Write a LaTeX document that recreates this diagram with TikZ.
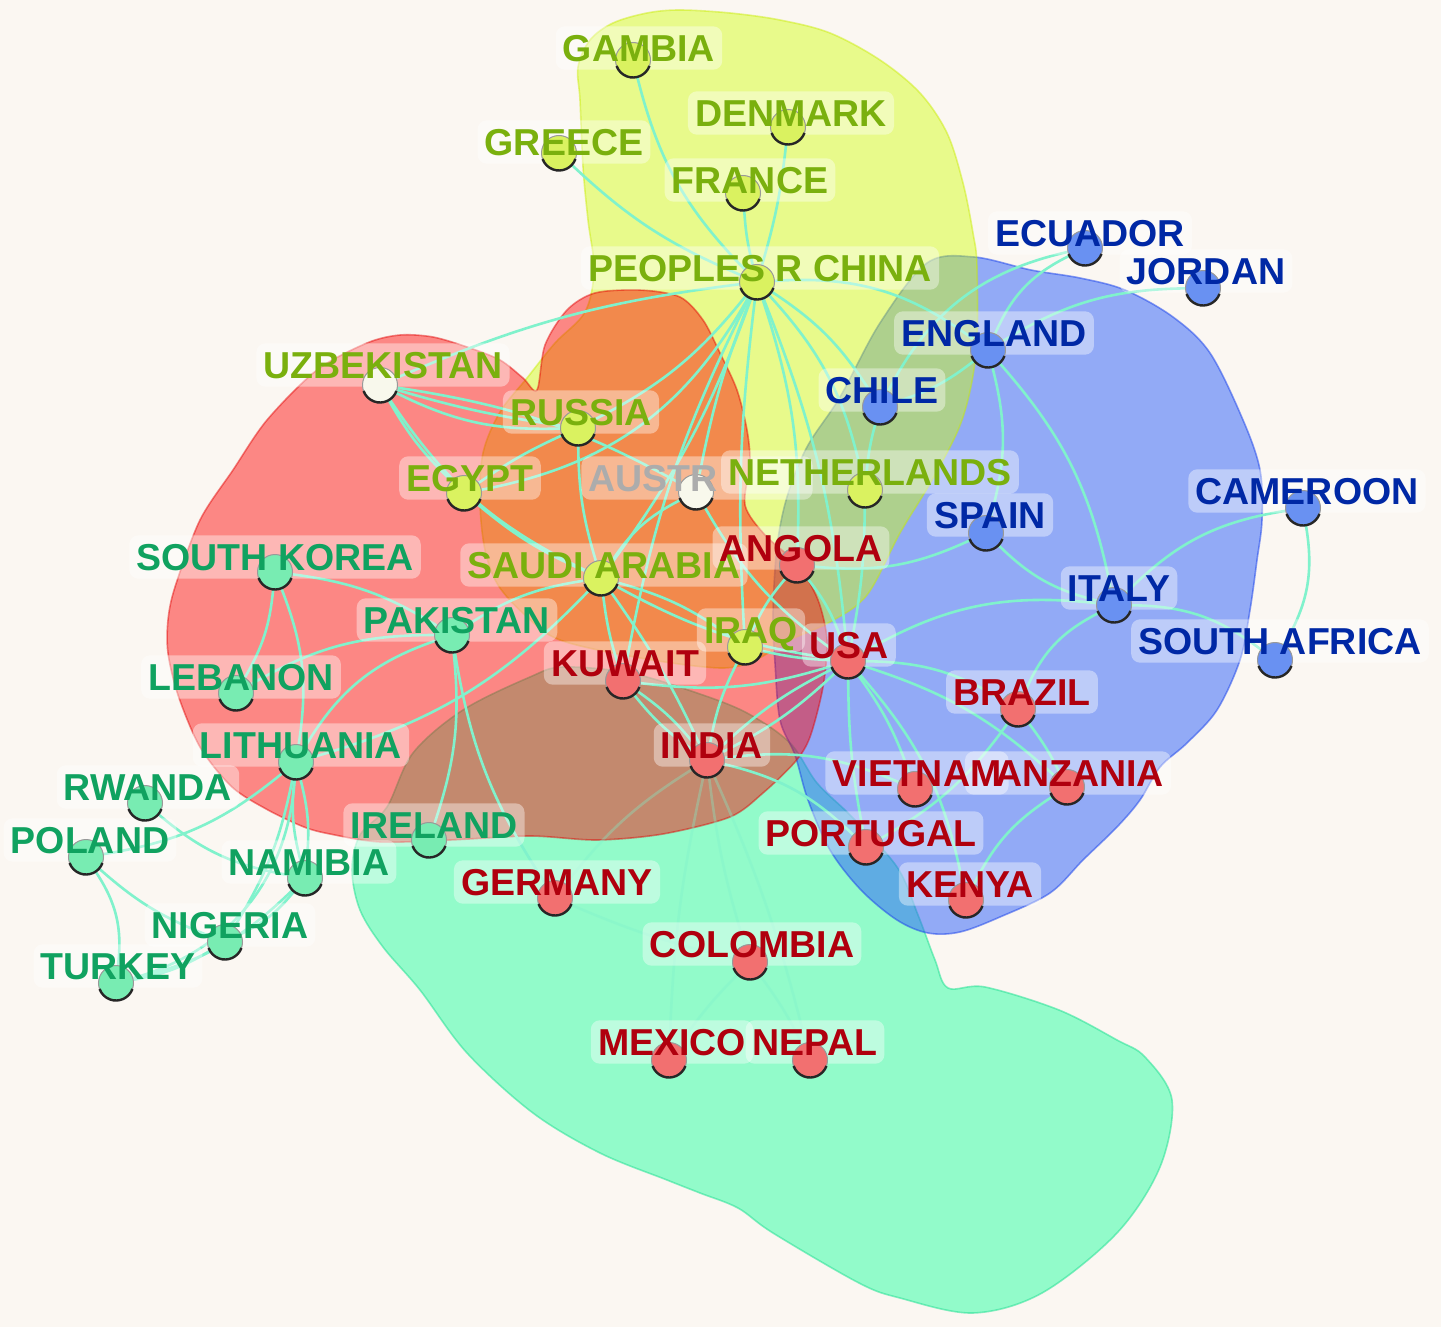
\documentclass[tikz,border=0pt]{standalone}
\usepackage{fontspec}
\newfontfamily\labfont{Liberation Sans}
\definecolor{bgc}{RGB}{251,247,242}
\definecolor{txY}{RGB}{122,176,14}
\definecolor{txG}{RGB}{16,162,96}
\definecolor{txR}{RGB}{176,0,14}
\definecolor{txB}{RGB}{0,40,165}
\definecolor{txA}{RGB}{172,172,172}
\definecolor{ndY}{RGB}{218,242,96}
\definecolor{ndW}{RGB}{248,248,236}
\definecolor{ndG}{RGB}{120,236,178}
\definecolor{ndR}{RGB}{242,112,112}
\definecolor{ndB}{RGB}{105,145,242}
\definecolor{edg}{RGB}{128,242,204}
\definecolor{blG}{RGB}{60,255,170}
\definecolor{blGd}{RGB}{40,225,150}
\definecolor{blB}{RGB}{50,100,250}
\definecolor{blBd}{RGB}{30,70,235}
\definecolor{blY}{RGB}{209,255,15}
\definecolor{blYd}{RGB}{200,235,0}
\definecolor{blR}{RGB}{255,0,0}
\definecolor{blRd}{RGB}{225,0,0}
\pgfdeclarelayer{blobs}
\pgfdeclarelayer{edges}
\pgfdeclarelayer{boxes}
\pgfdeclarelayer{dots}
\pgfsetlayers{blobs,edges,boxes,dots,main}
\begin{document}
\begin{tikzpicture}[x=1pt,y=-1pt,
  edge/.style={draw=edg, line width=2.6pt},
  faint/.style={draw=edg, line width=2.6pt, draw opacity=0.35},
  vl/.style={bend left=#1},
  vr/.style={bend right=#1},
  lab/.style={font=\labfont\bfseries\fontsize{37.5}{40}\selectfont, text=#1, inner xsep=7pt, inner ysep=8pt, text height=27pt, text depth=0pt},
  dot/.style={circle, minimum size=35pt, inner sep=0pt, fill=#1, draw=black!40, line width=1pt},
  blob/.style={opacity=0.5, line width=1.6pt}
]
\useasboundingbox (0,0) rectangle (1441,1327);
\begin{pgfonlayer}{blobs}
\fill[bgc] (0,0) rectangle (1441,1327);
% green cluster
\path[blob, opacity=0.55, fill=blG, draw=blGd] plot[smooth cycle, tension=0.55] coordinates {
 (387,807) (413,753) (463,710) (530,677) (563,667) (630,673) (697,693) (747,713) (790,743) (817,783) (852,817) (897,867) (918,915) (935,960) (948,988) (985,987) (1059,1010) (1117,1040) (1145,1057) (1172,1100) (1160,1167) (1117,1233) (1042,1293) (973,1313) (900,1298) (859,1283) (773,1233) (738,1208) (700,1193) (667,1180) (600,1153) (533,1113) (467,1053) (420,990) (383,947) (360,910) (352,870) (360,835)};
% blue cluster
\path[blob, opacity=0.52, fill=blB, draw=blBd] plot[smooth cycle, tension=0.55] coordinates {
 (927,263) (974,257) (1031,270) (1080,278) (1125,290) (1173,317) (1210,353) (1243,420) (1260,470) (1262,520) (1257,560) (1250,610) (1240,660) (1217,710) (1187,743) (1160,767) (1140,800) (1117,827) (1083,860) (1050,893) (1000,917) (960,932) (928,933) (897,920) (861,890) (830,850) (808,800) (795,755) (780,720) (775,663) (773,613) (777,547) (787,497) (807,447) (840,397) (880,323)};
% yellow cluster
\path[blob, opacity=0.45, fill=blY, draw=blYd] plot[smooth cycle, tension=0.55] coordinates {
 (580,100) (578,67) (590,40) (613,23) (647,13) (680,10) (730,13) (780,20) (830,33) (880,60) (920,93) (947,133) (963,183) (973,233) (977,267) (976,353) (962,420) (932,480) (900,533) (867,595) (830,622) (790,640) (755,660) (720,668) (640,658) (560,640) (525,615) (498,585) (485,550) (480,503) (483,453) (500,412) (527,378) (555,343) (585,312) (594,270) (588,220) (583,167)};
% red cluster
\path[blob, opacity=0.45, fill=blR, draw=blRd] plot[smooth cycle, tension=0.5] coordinates {
 (175,587) (200,520) (233,470) (267,420) (317,370) (367,343) (400,335) (433,337) (467,347) (500,360) (523,378) (537,390) (545,345) (567,310) (595,293) (640,290) (680,297) (703,320) (720,353) (737,390) (747,430) (750,463) (745,505) (765,535) (798,565) (818,600) (827,640) (823,687) (810,737) (795,762) (763,793) (730,817) (663,834) (597,840) (530,836) (450,840) (380,842) (330,834) (304,827) (268,810) (232,787) (200,747) (178,695) (168,653) (168,620)};
\end{pgfonlayer}

% ---------- node circles ----------
\begin{pgfonlayer}{dots}
\node[dot=ndY] (gam) at (633,60) {};
\node[dot=ndY] (den) at (788,127) {};
\node[dot=ndY] (gre) at (559,153) {};
\node[dot=ndY] (fra) at (743,193) {};
\node[dot=ndY] (chn) at (757,282) {};
\node[dot=ndW] (uzb) at (380,385) {};
\node[dot=ndY] (rus) at (578,428) {};
\node[dot=ndY] (egy) at (464,493) {};
\node[dot=ndW] (aus) at (696,492) {};
\node[dot=ndY] (net) at (865,490) {};
\node[dot=ndY] (sau) at (601,578) {};
\node[dot=ndY] (irq) at (745,647) {};
\node[dot=ndG] (sko) at (275,572) {};
\node[dot=ndG] (pak) at (452,635) {};
\node[dot=ndG] (leb) at (236,693) {};
\node[dot=ndG] (lit) at (296,762) {};
\node[dot=ndG] (rwa) at (145,803) {};
\node[dot=ndG] (pol) at (86,857) {};
\node[dot=ndG] (ire) at (429,840) {};
\node[dot=ndG] (nam) at (305,878) {};
\node[dot=ndG] (nig) at (225,942) {};
\node[dot=ndG] (tur) at (116,983) {};
\node[dot=ndR] (ang) at (797,565) {};
\node[dot=ndR] (kuw) at (623,681) {};
\node[dot=ndR] (usa) at (848,661) {};
\node[dot=ndR] (bra) at (1018,709) {};
\node[dot=ndR] (ind) at (707,760) {};
\node[dot=ndR] (vie) at (915,789) {};
\node[dot=ndR] (tan) at (1067,787) {};
\node[dot=ndR] (por) at (866,847) {};
\node[dot=ndR] (ger) at (555,898) {};
\node[dot=ndR] (ken) at (966,900) {};
\node[dot=ndR] (col) at (750,962) {};
\node[dot=ndR] (mex) at (669,1060) {};
\node[dot=ndR] (nep) at (810,1060) {};
\node[dot=ndB] (ecu) at (1085,248) {};
\node[dot=ndB] (jor) at (1203,288) {};
\node[dot=ndB] (eng) at (988,350) {};
\node[dot=ndB] (chi) at (880,407) {};
\node[dot=ndB] (spa) at (986,533) {};
\node[dot=ndB] (cam) at (1303,508) {};
\node[dot=ndB] (ita) at (1114,605) {};
\node[dot=ndB] (saf) at (1275,660) {};
\foreach \n in {gam,den,gre,fra,chn,uzb,rus,egy,aus,net,sau,irq,sko,pak,leb,lit,rwa,pol,ire,nam,nig,tur,ang,kuw,usa,bra,ind,vie,tan,por,ger,ken,col,mex,nep,ecu,jor,eng,chi,spa,cam,ita,saf}
  \draw[line width=2.4pt, black!85] (\n) ++(20:17.5) arc[start angle=20, end angle=160, radius=17.5];
\end{pgfonlayer}

% ---------- edges ----------
\begin{pgfonlayer}{edges}
\draw[edge] (gam) to[vr=15] (chn);
\draw[edge] (gre) to[vr=10] (chn);
\draw[edge] (den) to[vl=5] (chn);
\draw[edge] (fra) to[vr=5] (chn);
\draw[edge] (uzb) to[vl=8] (chn);
\draw[edge] (uzb) to[vr=4] (rus);
\draw[edge] (uzb) to[vr=14] (rus);
\draw[edge] (uzb) to[vr=8] (egy);
\draw[edge] (uzb) to[vr=15] (sau);
\draw[edge] (uzb) to[vl=10] (aus);
\draw[edge] (rus) to[vr=12] (chn);
\draw[edge] (egy) to[vr=25] (chn);
\draw[edge] (egy) to[vl=5] (rus);
\draw[edge] (egy) to[vr=8] (sau);
\draw[edge] (sau) to[vr=8] (chn);
\draw[edge] (aus) to[vl=5] (chn);
\draw[edge] (net) to[vr=15] (chn);
\draw[edge] (chn) to[vl=20] (eng);
\draw[edge] (chn) to[vl=12] (chi);
\draw[edge] (chn) to[vl=8] (usa);
\draw[edge] (chn) to[vr=5] (irq);
\draw[edge] (chn) to[vl=10] (ang);
\draw[edge] (chn) to[vr=8] (kuw);
\draw[edge] (eng) to[vl=20] (ecu);
\draw[edge] (eng) to[vl=15] (jor);
\draw[edge] (chi) to[vl=25] (ecu);
\draw[edge] (chi) to[vr=10] (eng);
\draw[edge] (eng) to[vl=15] (spa);
\draw[edge] (eng) to[vl=15] (ita);
\draw[edge] (spa) to[vr=15] (ita);
\draw[edge] (ang) to[vr=15] (spa);
\draw[edge] (ita) to[vl=18] (cam);
\draw[edge] (ita) to[vl=18] (saf);
\draw[edge] (cam) to[vl=20] (saf);
\draw[edge] (usa) to[vl=18] (ita);
\draw[edge] (ita) to[vr=20] (bra);
\draw[edge] (usa) to[vl=15] (bra);
\draw[edge] (usa) to[vl=12] (tan);
\draw[edge] (usa) to[vl=8] (vie);
\draw[edge] (usa) to[vr=5] (por);
\draw[edge] (usa) to[vl=15] (ken);
\draw[edge] (usa) to[vl=8] (ind);
\draw[edge] (usa) to[vr=8] (ind);
\draw[edge] (kuw) to[vr=12] (usa);
\draw[edge] (kuw) to[vl=8] (ind);
\draw[edge] (kuw) to[vr=8] (ind);
\draw[edge] (irq) to[vr=8] (ind);
\draw[edge] (irq) to[vr=5] (usa);
\draw[edge] (ind) to[vl=15] (vie);
\draw[edge] (ind) to[vl=15] (por);
\draw[faint] (ind) to[vr=5] (col);
\draw[faint] (ind) to[vr=10] (ger);
\draw[faint] (ind) to[vr=5] (mex);
\draw[faint] (ind) to[vl=5] (nep);
\draw[edge] (bra) to[vl=5] (tan);
\draw[edge] (bra) to[vl=12] (por);
\draw[edge] (tan) to[vr=15] (ken);
\draw[edge] (sau) to[vr=12] (pak);
\draw[edge] (sau) to[vr=5] (kuw);
\draw[edge] (sau) to[vl=10] (irq);
\draw[edge] (sau) to[vl=5] (ind);
\draw[edge] (sau) to[vl=15] (lit);
\draw[edge] (sau) to[vl=15] (aus);
\draw[edge] (sau) to[vr=10] (usa);
\draw[edge] (rus) to[vr=8] (sau);
\draw[edge] (aus) to[vr=12] (usa);
\draw[edge] (net) to[vl=5] (usa);
\draw[edge] (net) to[vl=5] (chi);
\draw[edge] (ang) to[vl=10] (usa);
\draw[edge] (ang) to[vr=8] (irq);
\draw[edge] (sko) to[vl=12] (leb);
\draw[edge] (sko) to[vl=15] (lit);
\draw[edge] (sko) to[vl=12] (pak);
\draw[edge] (pak) to[vr=15] (leb);
\draw[edge] (pak) to[vr=20] (lit);
\draw[edge] (pak) to[vl=12] (ire);
\draw[edge] (pak) to[vr=12] (ger);
\draw[edge] (lit) to[vl=15] (pol);
\draw[edge] (lit) to[vl=10] (nam);
\draw[edge] (lit) to[vr=10] (nam);
\draw[edge] (lit) to[vl=10] (nig);
\draw[edge] (lit) to[vl=35] (tur);
\draw[edge] (rwa) to[vr=15] (nam);
\draw[edge] (pol) to[vr=10] (nig);
\draw[edge] (pol) to[vl=20] (tur);
\draw[edge] (nig) to[vr=12] (nam);
\draw[edge] (tur) to[vr=15] (nam);
\draw[edge] (nig) to[vl=10] (tur);
\draw[faint] (col) to[vr=5] (mex);
\draw[faint] (col) to[vl=5] (nep);
\draw[faint] (col) to[vl=5] (ger);
\end{pgfonlayer}

% ---------- labels ----------
\node[lab=txY] (gamL) at (639,48) {GAMBIA};
\node[lab=txY] (denL) at (791,113) {DENMARK};
\node[lab=txY] (greL) at (564,142) {GREECE};
\node[lab=txY] (fraL) at (750,180) {FRANCE};
\node[lab=txY] (chnL) at (760,268) {PEOPLES R CHINA};
\node[lab=txY] (uzbL) at (383,365) {UZBEKISTAN};
\node[lab=txY] (rusL) at (581,412) {RUSSIA};
\node[lab=txY] (egyL) at (470,478) {EGYPT};
\node[lab=txA] (ausL) at (697,478) {AUSTR\phantom{ALIA}};
\node[lab=txY] (netL) at (870,472) {NETHERLANDS};
\node[lab=txY] (sauL) at (604,565) {SAUDI ARABIA};
\node[lab=txY] (irqL) at (751,630) {IRAQ};
\node[lab=txG] (skoL) at (275,557) {SOUTH KOREA};
\node[lab=txG] (pakL) at (457,620) {PAKISTAN};
\node[lab=txG] (lebL) at (241,677) {LEBANON};
\node[lab=txG] (litL) at (301,745) {LITHUANIA};
\node[lab=txG] (rwaL) at (148,787) {RWANDA};
\node[lab=txG] (polL) at (90,840) {POLAND};
\node[lab=txG] (ireL) at (434,825) {IRELAND};
\node[lab=txG] (namL) at (309,862) {NAMIBIA};
\node[lab=txG] (nigL) at (230,925) {NIGERIA};
\node[lab=txG] (turL) at (118,966) {TURKEY};
\node[lab=txR] (angL) at (801,548) {ANGOLA};
\node[lab=txR] (kuwL) at (625,663) {KUWAIT};
\node[lab=txR] (usaL) at (849,645) {USA};
\node[lab=txR] (braL) at (1022,692) {BRAZIL};
\node[lab=txR] (indL) at (712,745) {INDIA};
\node[lab=txR] (tanL) at (1068,773) {\phantom{T}ANZANIA};
\node[lab=txR] (vieL) at (917,773) {VIETNAM};
\node[lab=txR] (porL) at (871,833) {PORTUGAL};
\node[lab=txR] (gerL) at (557,882) {GERMANY};
\node[lab=txR] (kenL) at (970,884) {KENYA};
\node[lab=txR] (colL) at (752,944) {COLOMBIA};
\node[lab=txR] (mexL) at (672,1042) {MEXICO};
\node[lab=txR] (nepL) at (815,1042) {NEPAL};
\node[lab=txB] (ecuL) at (1090,233) {ECUADOR};
\node[lab=txB] (jorL) at (1206,271) {JORDAN};
\node[lab=txB] (engL) at (994,333) {ENGLAND};
\node[lab=txB] (chiL) at (882,390) {CHILE};
\node[lab=txB] (spaL) at (990,515) {SPAIN};
\node[lab=txB] (camL) at (1307,491) {CAMEROON};
\node[lab=txB] (itaL) at (1119,588) {ITALY};
\node[lab=txB] (safL) at (1280,641) {SOUTH AFRICA};

\begin{pgfonlayer}{boxes}
\foreach \n in {gamL,denL,greL,fraL,chnL,uzbL,rusL,egyL,ausL,netL,sauL,irqL,skoL,pakL,lebL,litL,rwaL,polL,ireL,namL,nigL,turL,angL,kuwL,usaL,braL,indL,tanL,vieL,porL,gerL,kenL,colL,mexL,nepL,ecuL,jorL,engL,chiL,spaL,camL,itaL,safL}
  \fill[white, opacity=0.4, rounded corners=9pt] (\n.south west) rectangle (\n.north east);
\end{pgfonlayer}
\end{tikzpicture}
\end{document}
